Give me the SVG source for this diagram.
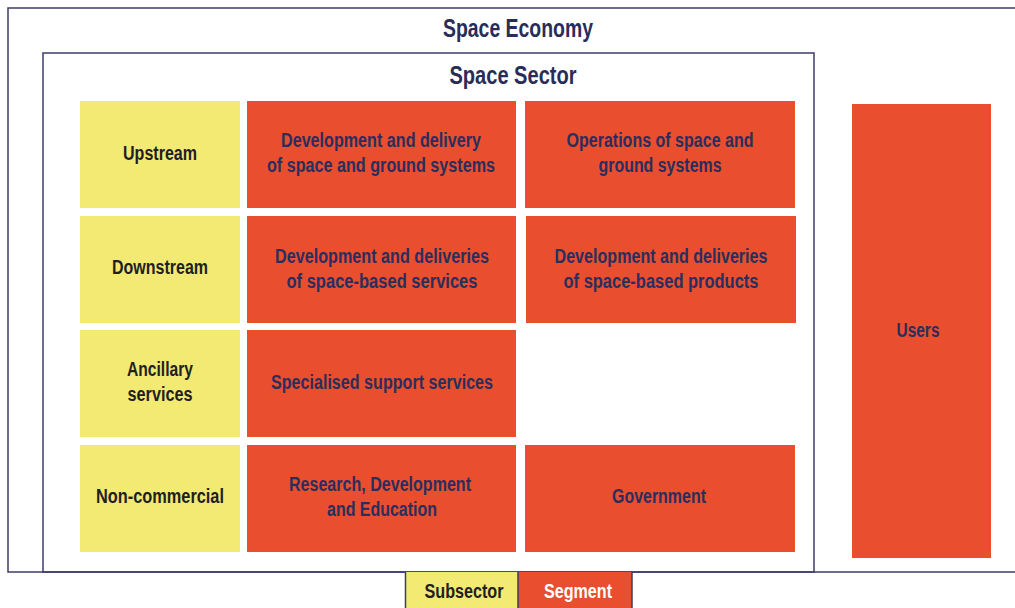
<svg xmlns="http://www.w3.org/2000/svg" width="1015" height="608" viewBox="0 0 1015 608">
<style>
.frame{fill:none;stroke:#3b3c6b;stroke-width:1.5}
.sub{fill:#f3ea73}
.seg{fill:#e94f2e}
text{font-family:"Liberation Sans",Arial,sans-serif;font-weight:bold;text-anchor:middle}
.t{font-size:20px;fill:#2b2e5c}
.d{font-size:20px;fill:#1f1f22}
.h{font-size:25px;fill:#2a2c58}
.w{font-size:20px;fill:#ffffff}
</style>
<rect width="1015" height="608" fill="#ffffff"/>
<g id="space-economy">
<rect class="frame" x="8" y="8" width="1020" height="564"/>
<text class="h" x="518" y="37" textLength="150" lengthAdjust="spacingAndGlyphs">Space Economy</text>
</g>
<g id="space-sector">
<rect class="frame" x="43" y="53" width="771" height="519"/>
<text class="h" x="513" y="84" textLength="127" lengthAdjust="spacingAndGlyphs">Space Sector</text>
</g>
<g id="upstream"><rect class="sub" x="80" y="101" width="160" height="107"/>
<text class="d" x="160" y="160" textLength="74" lengthAdjust="spacingAndGlyphs">Upstream</text></g>
<g id="downstream"><rect class="sub" x="80" y="216" width="160" height="107"/>
<text class="d" x="160" y="274" textLength="96" lengthAdjust="spacingAndGlyphs">Downstream</text></g>
<g id="ancillary"><rect class="sub" x="80" y="330" width="160" height="107"/>
<text class="d" x="160" y="376" textLength="66" lengthAdjust="spacingAndGlyphs">Ancillary</text>
<text class="d" x="160" y="401" textLength="65" lengthAdjust="spacingAndGlyphs">services</text></g>
<g id="noncommercial"><rect class="sub" x="80" y="445" width="160" height="107"/>
<text class="d" x="160" y="503" textLength="128" lengthAdjust="spacingAndGlyphs">Non-commercial</text></g>
<g id="dev-systems"><rect class="seg" x="247" y="101" width="269" height="107"/>
<text class="t" x="381" y="147" textLength="200" lengthAdjust="spacingAndGlyphs">Development and delivery</text>
<text class="t" x="381" y="172" textLength="228" lengthAdjust="spacingAndGlyphs">of space and ground systems</text></g>
<g id="ops-systems"><rect class="seg" x="525" y="101" width="270" height="107"/>
<text class="t" x="660" y="147" textLength="187" lengthAdjust="spacingAndGlyphs">Operations of space and</text>
<text class="t" x="660" y="172" textLength="123" lengthAdjust="spacingAndGlyphs">ground systems</text></g>
<g id="dev-services"><rect class="seg" x="247" y="216" width="269" height="107"/>
<text class="t" x="382" y="263" textLength="214" lengthAdjust="spacingAndGlyphs">Development and deliveries</text>
<text class="t" x="382" y="288" textLength="191" lengthAdjust="spacingAndGlyphs">of space-based services</text></g>
<g id="dev-products"><rect class="seg" x="526" y="216" width="270" height="107"/>
<text class="t" x="661" y="263" textLength="213" lengthAdjust="spacingAndGlyphs">Development and deliveries</text>
<text class="t" x="661" y="288" textLength="195" lengthAdjust="spacingAndGlyphs">of space-based products</text></g>
<g id="support"><rect class="seg" x="247" y="330" width="269" height="107"/>
<text class="t" x="382" y="389" textLength="222" lengthAdjust="spacingAndGlyphs">Specialised support services</text></g>
<g id="research"><rect class="seg" x="247" y="445" width="269" height="107"/>
<text class="t" x="380" y="491" textLength="182" lengthAdjust="spacingAndGlyphs">Research, Development</text>
<text class="t" x="382" y="516" textLength="110" lengthAdjust="spacingAndGlyphs">and Education</text></g>
<g id="government"><rect class="seg" x="525" y="445" width="270" height="107"/>
<text class="t" x="659" y="503" textLength="94" lengthAdjust="spacingAndGlyphs">Government</text></g>
<g id="users"><rect class="seg" x="852" y="104" width="139" height="454"/>
<text class="t" x="918" y="337" textLength="43" lengthAdjust="spacingAndGlyphs">Users</text></g>
<g id="legend">
<rect class="sub" x="405" y="572" width="113" height="40"/>
<rect class="seg" x="518" y="572" width="114" height="40"/>
<path class="frame" d="M405.5 572V608M518 572V608M632 572V608"/>
<text class="d" x="464" y="598" textLength="79" lengthAdjust="spacingAndGlyphs">Subsector</text>
<text class="w" x="578" y="598" textLength="68" lengthAdjust="spacingAndGlyphs">Segment</text>
</g>
<g id="connectors"></g>
</svg>
